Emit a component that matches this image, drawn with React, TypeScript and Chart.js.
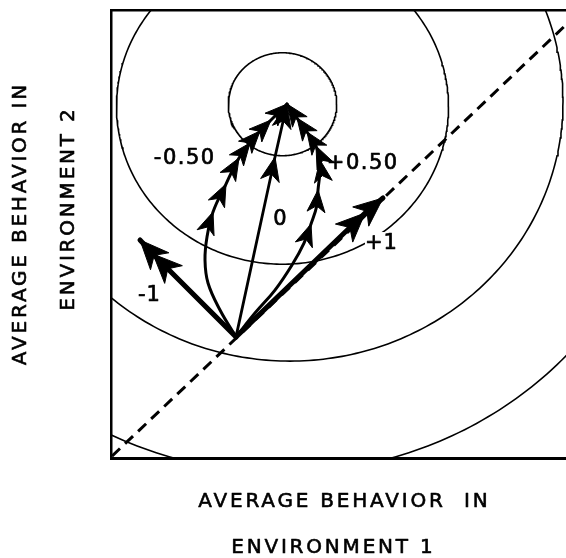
import React, { useEffect, useRef } from "react";
import { Chart, registerables } from "chart.js";
Chart.register(...registerables);

// ---------- data (in plot units) ----------
const xRange = [0, 45.5];
const yRange = [0, 47.16];

// concentric circles
const circleCX = [17.15, 17.15, 17.9, 17.15];
const circleCY = [37.24, 37.0, 37.5, 37.24];
const circleR = [5.42, 16.6, 27.3, 38.8];

// dashed diagonal (environment 1 = environment 2)
const diagX = [0.1, 45.5];
const diagY = [0.2, 45.6];

// trajectories (all start at the same point)
const minus1X = [12.5, 4.2, 2.9];
const minus1Y = [12.75, 21.47, 22.95];
const minus1Heads = [1, 2];

const minusHalfX = [12.5, 10.9, 9.7, 9.4, 9.6, 10.2, 11.5, 12.8, 13.9, 14.9, 16.0, 17.6];
const minusHalfY = [12.75, 15.58, 18.42, 20.84, 23.26, 25.89, 28.84, 31.58, 33.16, 34.42, 35.58, 37.26];
const minusHalfHeads = [5, 6, 7, 8, 9, 10, 11];

const zeroX = [12.5, 16.4, 17.6];
const zeroY = [12.75, 31.68, 37.26];
const zeroHeads = [1, 2];

const plusHalfX = [12.5, 14.4, 16.4, 18.1, 19.3, 20.0, 20.6, 20.7, 20.9, 20.9, 20.5, 19.6, 18.6, 17.6];
const plusHalfY = [12.75, 15.26, 17.68, 20.32, 22.63, 24.63, 26.63, 28.21, 30.11, 31.37, 32.84, 34.32, 35.79, 37.26];
const plusHalfHeads = [5, 7, 9, 10, 11, 12, 13];

const plus1X = [12.5, 25.4, 27.2];
const plus1Y = [12.75, 25.79, 27.37];
const plus1Heads = [1, 2];

// trajectory labels
const labelTexts = ["-0.50", "+0.50", "0", "+1", "-1"];
const labelX = [7.3, 25.1, 16.9, 27.0, 3.8];
const labelY = [31.68, 31.05, 25.16, 22.63, 17.16];

const xTitle = ["AVERAGE BEHAVIOR  IN", "ENVIRONMENT 1"];
const yTitle = ["AVERAGE BEHAVIOR IN", "ENVIRONMENT 2"];

const zip = (xs: number[], ys: number[]) => xs.map((x, i) => ({ x, y: ys[i] }));

function circlePoints(cx: number, cy: number, r: number) {
  const pts: { x: number; y: number }[] = [];
  const n = 360;
  for (let i = 0; i <= n; i++) {
    const t = (2 * Math.PI * i) / n;
    pts.push({ x: cx + r * Math.cos(t), y: cy + r * Math.sin(t) });
  }
  return pts;
}

function drawHead(ctx: CanvasRenderingContext2D, tx: number, ty: number, dx: number, dy: number, L: number, Wd: number, notch: number) {
  const nx = -dy, ny = dx;
  const bx = tx - dx * L, by = ty - dy * L;
  ctx.beginPath();
  ctx.moveTo(tx, ty);
  ctx.lineTo(bx + nx * Wd, by + ny * Wd);
  ctx.lineTo(tx - dx * L * notch, ty - dy * L * notch);
  ctx.lineTo(bx - nx * Wd, by - ny * Wd);
  ctx.closePath();
  ctx.fill();
  ctx.lineWidth = 1;
  ctx.stroke();
}

const FONT = '"DejaVu Sans", "Liberation Sans", sans-serif';

function boldText(ctx: CanvasRenderingContext2D, t: string, x: number, y: number, lw: number) {
  ctx.fillText(t, x, y);
  ctx.lineWidth = lw;
  ctx.strokeText(t, x, y);
}

const annotPlugin = {
  id: "annot",
  afterDatasetsDraw(chart: any) {
    const ctx: CanvasRenderingContext2D = chart.ctx;
    const xs = chart.scales.x, ys = chart.scales.y;
    ctx.save();
    // labels (white box behind "+1" breaks the circle as in the original)
    ctx.font = `21px ${FONT}`;
    ctx.textAlign = "center";
    ctx.textBaseline = "middle";
    ctx.strokeStyle = "#000";
    ctx.lineJoin = "round";
    labelTexts.forEach((t, i) => {
      const px = xs.getPixelForValue(labelX[i]);
      const py = ys.getPixelForValue(labelY[i]);
      (ctx as any).letterSpacing = t.length > 2 ? "1.5px" : "1px";
      if (t === "+1") {
        ctx.fillStyle = "#fff";
        ctx.fillRect(px - 16, py - 11, 32, 22);
      }
      ctx.fillStyle = "#000";
      boldText(ctx, t, px + (t.length > 2 ? 0.75 : 0.5), py + 1, 0.7);
    });
    // arrowheads
    ctx.fillStyle = "#000";
    ctx.lineJoin = "miter";
    chart.data.datasets.forEach((ds: any, di: number) => {
      if (!ds.heads) return;
      const meta = chart.getDatasetMeta(di);
      const pts = meta.data;
      ds.heads.forEach((i: number) => {
        const el = pts[i];
        let dx = 0, dy = 0;
        if (el.cp1x !== undefined && (Math.abs(el.cp1x - el.x) > 0.01 || Math.abs(el.cp1y - el.y) > 0.01) && ds.tension > 0) {
          dx = el.x - el.cp1x; dy = el.y - el.cp1y;
        } else {
          const p = pts[i - 1];
          dx = el.x - p.x; dy = el.y - p.y;
        }
        const len = Math.hypot(dx, dy) || 1;
        drawHead(ctx, el.x, el.y, dx / len, dy / len, ds.headL, ds.headW, 0.72);
      });
    });
    ctx.restore();
  },
  afterDraw(chart: any) {
    const ctx: CanvasRenderingContext2D = chart.ctx;
    ctx.save();
    ctx.fillStyle = "#000";
    ctx.strokeStyle = "#000";
    ctx.lineJoin = "round";
    ctx.font = `20px ${FONT}`;
    ctx.textAlign = "center";
    ctx.textBaseline = "middle";
    (ctx as any).letterSpacing = "2.8px";
    boldText(ctx, xTitle[0], 343 + 1.4, 502, 0.6);
    boldText(ctx, xTitle[1], 332 + 1.4, 548, 0.6);
    const yCenters = [[21, 225], [69, 210]];
    yTitle.forEach((t, i) => {
      ctx.save();
      ctx.translate(yCenters[i][0], yCenters[i][1]);
      ctx.rotate(-Math.PI / 2);
      boldText(ctx, t, 1.4, 0, 0.6);
      ctx.restore();
    });
    ctx.restore();
  },
};

export default function App() {
  const ref = useRef<HTMLCanvasElement | null>(null);
  useEffect(() => {
    if (!ref.current) return;
    const circleSets = circleR.map((r, k) => ({
      data: circlePoints(circleCX[k], circleCY[k], r),
      borderColor: "#000",
      borderWidth: 1.6,
      pointRadius: 0,
      showLine: true,
      tension: 0,
      fill: false,
    }));
    const arrow = (xsA: number[], ysA: number[], heads: number[], w: number, tension: number, hl: number, hw: number) => ({
      data: zip(xsA, ysA),
      borderColor: "#000",
      borderWidth: w,
      pointRadius: 0,
      showLine: true,
      tension,
      fill: false,
      borderCapStyle: "round",
      heads,
      headL: hl,
      headW: hw,
    });
    const chart = new Chart(ref.current, {
      type: "scatter",
      data: {
        datasets: [
          ...circleSets,
          {
            data: zip(diagX, diagY),
            borderColor: "#000",
            borderWidth: 3,
            borderDash: [11, 7],
            pointRadius: 0,
            showLine: true,
            fill: false,
          },
          arrow(zeroX, zeroY, zeroHeads, 2.8, 0, 24, 9.5),
          arrow(minusHalfX, minusHalfY, minusHalfHeads, 3, 0.4, 22, 9),
          arrow(plusHalfX, plusHalfY, plusHalfHeads, 3, 0.4, 22, 9),
          arrow(minus1X, minus1Y, minus1Heads, 5, 0, 29, 12.5),
          arrow(plus1X, plus1Y, plus1Heads, 5, 0, 29, 12.5),
        ] as any,
      },
      options: {
        animation: false,
        responsive: false,
        maintainAspectRatio: false,
        devicePixelRatio: 1,
        events: [],
        layout: { padding: { left: 111, top: 10, right: 0, bottom: 100 } },
        plugins: { legend: { display: false }, tooltip: { enabled: false } },
        scales: {
          x: {
            type: "linear",
            min: xRange[0],
            max: xRange[1],
            ticks: { display: false },
            grid: { display: false, drawTicks: false },
            border: { display: true, color: "#000", width: 3 },
          },
          x2: {
            type: "linear",
            position: "top",
            min: xRange[0],
            max: xRange[1],
            ticks: { display: false },
            grid: { display: false, drawTicks: false },
            border: { display: true, color: "#000", width: 2.5 },
          },
          y: {
            type: "linear",
            min: yRange[0],
            max: yRange[1],
            ticks: { display: false },
            grid: { display: false, drawTicks: false },
            border: { display: true, color: "#000", width: 2.5 },
          },
        },
      } as any,
      plugins: [annotPlugin as any],
    });
    return () => chart.destroy();
  }, []);
  return (
    <div style={{ position: "fixed", left: 0, top: 0, width: 566, height: 558, background: "#fff" }}>
      <canvas ref={ref} width={566} height={558} style={{ width: 566, height: 558, display: "block" }} />
    </div>
  );
}
